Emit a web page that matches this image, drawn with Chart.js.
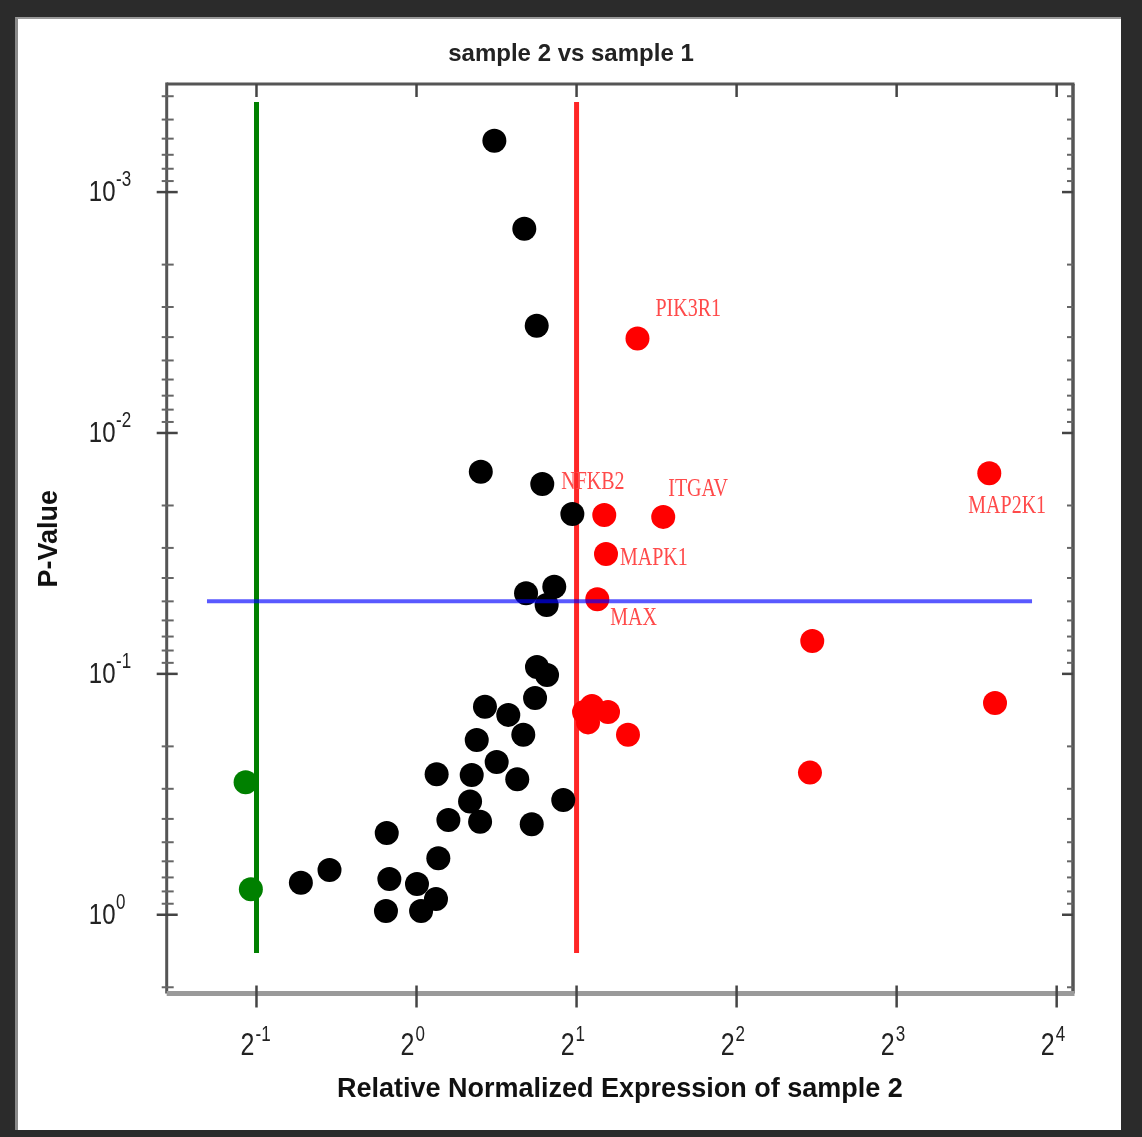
<!DOCTYPE html>
<html>
<head>
<meta charset="utf-8">
<script src="https://cdn.jsdelivr.net/npm/chart.js@4.4.0/dist/chart.umd.min.js"></script>
<style>
  html, body { margin: 0; padding: 0; background: #2b2b2b; overflow: hidden; }
  #paper { position: absolute; left: 15px; top: 17px; width: 1103px; height: 1111px;
           background: #fff; border-top: 2px solid #999; border-left: 3px solid #8a8a8a; }
  #c { position: absolute; left: 0; top: 0; }
</style>
</head>
<body>
<div id="paper"></div>
<canvas id="c" width="1142" height="1137"></canvas>
<script>
// values
const blackFold = [1.401, 1.595, 1.683, 1.321, 1.724, 1.964, 1.607, 1.816, 1.757, 1.685, 1.760, 1.671,
  1.345, 1.488, 1.298, 1.588, 1.415, 1.547, 1.091, 1.270, 1.261, 1.317, 1.148, 1.647, 1.888,
  0.879, 1.099, 0.889, 0.876, 1.002, 1.020, 1.088, 0.606, 0.686];
const blackP = [0.000612, 0.00142, 0.00359, 0.0145, 0.0163, 0.0217, 0.0463, 0.0435, 0.0518, 0.0937, 0.101, 0.126,
  0.137, 0.148, 0.188, 0.179, 0.232, 0.274, 0.261, 0.263, 0.339, 0.411, 0.404, 0.421, 0.334,
  0.458, 0.583, 0.711, 0.965, 0.745, 0.965, 0.860, 0.736, 0.652];

const greenFold = [0.477, 0.488];
const greenP = [0.282, 0.784];

const redGenes = ['PIK3R1', 'MAP2K1', 'NFKB2', 'ITGAV', 'MAPK1', 'MAX', '', '', '', '', '', '', '', ''];
const redFold = [2.604, 11.95, 2.255, 2.911, 2.272, 2.188, 5.551, 12.25, 5.496, 2.066, 2.138, 2.102, 2.292, 2.499];
const redP = [0.00405, 0.0147, 0.0219, 0.0223, 0.0318, 0.0490, 0.0731, 0.132, 0.257, 0.144, 0.136, 0.159, 0.144, 0.179];

const xTickPowers = [-1, 0, 1, 2, 3, 4];
const yTickPowers = [-3, -2, -1, 0];

const lowFold = 0.5, highFold = 2, pCut = 0.05;
const lineP = [4.23e-4, 1.44];
const lineFold = [0.4035, 14.38];

// where the gene names sit relative to their dot (px)
const labelOffsets = {
  PIK3R1: [18, -29], NFKB2: [-43, -33], ITGAV: [5, -27],
  MAPK1: [14, 4], MAX: [13, 19], MAP2K1: [-21, 33]
};

function pts(xs, ys) {
  return xs.map((v, i) => ({ x: v, y: ys[i] }));
}

function line(ctx, x1, y1, x2, y2) {
  ctx.beginPath();
  ctx.moveTo(x1, y1);
  ctx.lineTo(x2, y2);
  ctx.stroke();
}

function stretchText(ctx, txt, x, y, sy) {
  ctx.save();
  ctx.translate(x, y);
  ctx.scale(1, sy);
  ctx.fillText(txt, 0, 0);
  ctx.restore();
}

const decor = {
  id: 'decor',
  beforeDatasetsDraw(chart) {
    const { ctx, chartArea: a, scales: { x, y } } = chart;
    ctx.save();
    ctx.lineCap = 'butt';
    // frame
    ctx.strokeStyle = '#555';
    ctx.lineWidth = 3;
    line(ctx, a.left, a.top, a.right + 1.5, a.top);
    line(ctx, a.left, a.top - 1.5, a.left, a.bottom);
    ctx.lineWidth = 3.5;
    line(ctx, a.right, a.top, a.right, a.bottom);
    ctx.strokeStyle = '#9a9a9a';
    ctx.lineWidth = 5;
    line(ctx, a.left, a.bottom, a.right + 1.5, a.bottom);

    // y ticks, both sides
    for (let e = -4; e <= 0; e++) {
      for (let k = 1; k <= 9; k++) {
        const v = k * Math.pow(10, e);
        if (v < y.min || v > y.max) continue;
        const py = y.getPixelForValue(v);
        if (k === 1) {
          ctx.strokeStyle = '#444'; ctx.lineWidth = 2.5;
          line(ctx, a.left - 10, py, a.left + 11, py);
          line(ctx, a.right - 11, py, a.right, py);
        } else {
          ctx.strokeStyle = '#666'; ctx.lineWidth = 2;
          line(ctx, a.left - 5, py, a.left + 7, py);
          line(ctx, a.right - 6, py, a.right, py);
        }
      }
    }
    // x ticks, top and bottom
    ctx.strokeStyle = '#444';
    ctx.lineWidth = 2.5;
    xTickPowers.forEach(n => {
      const px = x.getPixelForValue(Math.pow(2, n));
      line(ctx, px, a.bottom - 8, px, a.bottom + 14);
      line(ctx, px, a.top, px, a.top + 13);
    });
    ctx.restore();
  },
  afterDatasetsDraw(chart) {
    const { ctx, chartArea: a, scales: { x, y } } = chart;
    ctx.save();
    ctx.fillStyle = '#222';
    ctx.textBaseline = 'middle';
    // y tick labels 10^n
    yTickPowers.forEach(n => {
      const py = y.getPixelForValue(Math.pow(10, n));
      ctx.font = '24px "Liberation Sans", Arial, sans-serif';
      ctx.textAlign = 'right';
      stretchText(ctx, '10', 115.5, py + 1, 1.25);
      ctx.font = '17px "Liberation Sans", Arial, sans-serif';
      ctx.textAlign = 'left';
      stretchText(ctx, n === 0 ? '0' : '-' + Math.abs(n), 116, py - 12, 1.25);
    });
    // x tick labels 2^n
    xTickPowers.forEach(n => {
      const px = x.getPixelForValue(Math.pow(2, n));
      ctx.font = '25px "Liberation Sans", Arial, sans-serif';
      ctx.textAlign = 'right';
      stretchText(ctx, '2', px - 2, a.bottom + 53, 1.25);
      ctx.font = '17px "Liberation Sans", Arial, sans-serif';
      ctx.textAlign = 'left';
      stretchText(ctx, n < 0 ? '-' + Math.abs(n) : String(n), px - 1, a.bottom + 42, 1.25);
    });
    // gene names
    ctx.fillStyle = '#ff4a4a';
    ctx.font = '20px "Liberation Serif", "Times New Roman", serif';
    ctx.textAlign = 'left';
    redGenes.forEach((g, i) => {
      if (!g) return;
      const off = labelOffsets[g];
      const px = x.getPixelForValue(redFold[i]);
      const py = y.getPixelForValue(redP[i]);
      stretchText(ctx, g, px + off[0], py + off[1], 1.25);
    });
    ctx.restore();
  }
};

Chart.defaults.font.family = '"Liberation Sans", Arial, sans-serif';

const dot = { pointRadius: 12, pointHoverRadius: 12, pointBorderWidth: 0, showLine: false, order: 0 };
const rule = { pointRadius: 0, showLine: true, borderWidth: 5, order: 1 };

new Chart(document.getElementById('c'), {
  type: 'scatter',
  data: {
    datasets: [
      { ...dot, label: 'down', data: pts(greenFold, greenP), backgroundColor: '#008000' },
      { ...dot, label: 'up', data: pts(redFold, redP), backgroundColor: '#ff0000' },
      { ...dot, label: 'none', data: pts(blackFold, blackP), backgroundColor: '#000000' },
      { ...rule, label: 'low', data: [{ x: lowFold, y: lineP[0] }, { x: lowFold, y: lineP[1] }], borderColor: '#008000' },
      { ...rule, label: 'high', data: [{ x: highFold, y: lineP[0] }, { x: highFold, y: lineP[1] }], borderColor: '#ff2626' },
      { ...rule, label: 'p', data: [{ x: lineFold[0], y: pCut }, { x: lineFold[1], y: pCut }], borderColor: 'rgba(0,0,255,0.65)', borderWidth: 4, order: -1 }
    ]
  },
  options: {
    responsive: false,
    animation: false,
    events: [],
    layout: { padding: 0, autoPadding: false },
    plugins: {
      legend: { display: false },
      tooltip: { enabled: false },
      title: {
        display: true,
        text: 'sample 2 vs sample 1',
        color: '#222',
        font: { size: 24, weight: 'bold' },
        padding: { top: 39.6, bottom: 15.6 }
      }
    },
    scales: {
      x: {
        type: 'logarithmic',
        position: 'bottom',
        bounds: 'data',
        min: Math.pow(2, -1.561),
        max: Math.pow(2, 4.102),
        grid: { display: false },
        border: { display: false },
        ticks: { display: false },
        title: {
          display: true,
          text: 'Relative Normalized Expression of sample 2',
          color: '#111',
          font: { size: 27, weight: 'bold' },
          padding: { top: 0, bottom: 31 }
        },
        afterFit: s => { s.height = 143.5; }
      },
      y: {
        type: 'logarithmic',
        position: 'left',
        reverse: true,
        bounds: 'data',
        min: Math.pow(10, -3.4487),
        max: Math.pow(10, 0.3269),
        grid: { display: false },
        border: { display: false },
        ticks: { display: false },
        title: {
          display: true,
          text: 'P-Value',
          color: '#111',
          font: { size: 27, weight: 'bold' },
          padding: { top: 33, bottom: 0 }
        },
        afterFit: s => { s.width = 166.7; }
      },
      yr: {
        type: 'linear',
        position: 'right',
        min: 0,
        max: 1,
        grid: { display: false },
        border: { display: false },
        ticks: { display: false },
        afterFit: s => { s.width = 69; }
      }
    }
  },
  plugins: [decor]
});
</script>
</body>
</html>
